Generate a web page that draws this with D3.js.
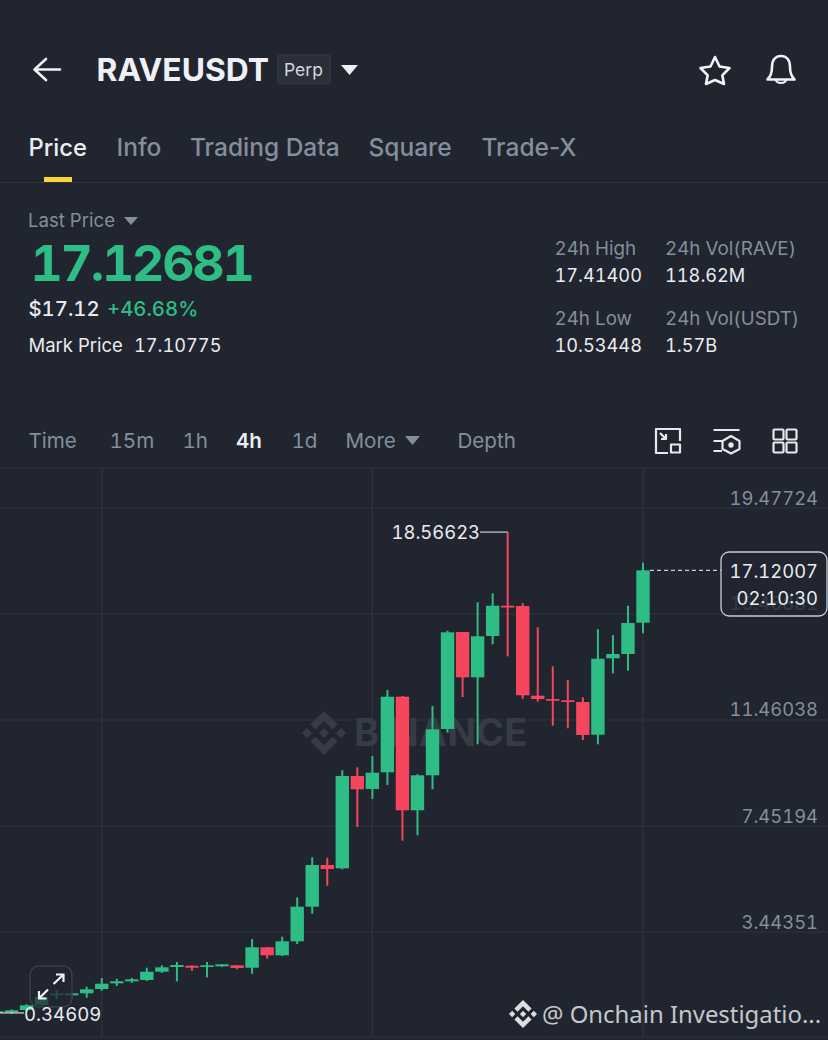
<!DOCTYPE html>
<html lang="en">
  <head>
    <meta charset="utf-8" />
    <script src="https://cdn.jsdelivr.net/npm/d3@7"></script>
    <style>
      html, body { margin: 0; padding: 0; background: #20252f; overflow: hidden; }
      svg { display: block; }
      text { font-family: "Inter", sans-serif; font-variant-numeric: tabular-nums; font-feature-settings: "tnum" 1; }
      text.plain { font-variant-numeric: normal; font-feature-settings: "tnum" 0; }
    </style>
  </head>

  <body>
    <script>
      // candles, oldest first
      const opens = [0.391, 0.406, 0.493, 0.682, 1.061, 1.049, 1.125, 1.287, 1.503, 1.579, 1.628, 1.942, 2.119, 2.169, 2.119, 2.146, 2.184, 2.093, 2.864, 2.562, 3.091, 4.400, 5.977, 5.852, 9.342, 8.851, 9.482, 12.341, 8.045, 9.369, 11.120, 14.788, 13.075, 14.637, 15.782, 15.771, 12.379, 12.254, 12.205, 12.141, 10.904, 13.793, 13.956, 15.140];
      const highs = [0.493, 0.520, 0.709, 1.049, 1.250, 1.147, 1.374, 1.703, 1.677, 1.703, 2.093, 2.184, 2.309, 2.184, 2.309, 2.233, 2.195, 3.178, 2.876, 3.265, 4.755, 6.268, 6.253, 9.558, 9.671, 10.099, 12.594, 12.368, 9.407, 11.989, 14.837, 14.788, 15.911, 16.251, 18.56623, 15.873, 14.966, 13.491, 12.973, 12.318, 14.890, 14.674, 15.782, 17.408];
      const lows = [0.380, 0.34609, 0.456, 0.656, 0.909, 1.023, 0.958, 1.223, 1.401, 1.526, 1.590, 1.893, 1.579, 1.968, 1.730, 2.119, 2.032, 1.866, 2.433, 2.535, 2.989, 4.135, 5.194, 5.814, 7.414, 8.473, 9.002, 6.896, 7.100, 8.839, 10.980, 12.330, 10.541, 14.323, 13.869, 12.265, 12.152, 11.244, 11.146, 10.704, 10.541, 13.226, 13.324, 14.739];
      const closes = [0.444, 0.482, 0.671, 0.996, 1.110, 1.125, 1.276, 1.488, 1.579, 1.654, 1.942, 2.108, 2.195, 2.093, 2.184, 2.221, 2.082, 2.864, 2.562, 3.091, 4.400, 5.977, 5.825, 9.342, 8.839, 9.467, 12.341, 8.045, 9.369, 11.108, 14.776, 13.075, 14.625, 15.782, 15.714, 12.394, 12.254, 12.190, 12.141, 10.893, 13.778, 13.956, 15.128, 17.12007];

      const priceTicks = [19.47724, 15.46881, 11.46038, 7.45194, 3.44351];
      const timeGridCandles = [7, 25, 43];
      const highLabel = 18.56623;
      const lowLabel = 0.34609;
      const lastPrice = 17.12007;
      const countdown = "02:10:30";

      const tabs = ["Price", "Info", "Trading Data", "Square", "Trade-X"];
      const intervals = ["Time", "15m", "1h", "4h", "1d", "More", "Depth"];

      const w = 828;
      const h = 1040;
      const bg = "#20252f";
      const up = "#2ebd85";
      const down = "#f6465d";
      const grey = "#848e9c";
      const white = "#eaecef";
      const gridColor = "#2f343e";

      const svg = d3.select("body").append("svg").attr("width", w).attr("height", h);
      svg.append("rect").attr("width", w).attr("height", h).attr("fill", bg);

      const label = (x, y, str, size, fill, weight, anchor) =>
        svg.append("text").attr("x", x).attr("y", y).text(str)
          .attr("font-size", size).attr("fill", fill)
          .attr("font-weight", weight || 400)
          .attr("text-anchor", anchor || "start");

      const triangle = (x0, x1, y0, y1, fill) =>
        svg.append("path").attr("fill", fill)
          .attr("d", `M${x0} ${y0}L${x1} ${y0}L${(x0 + x1) / 2} ${y1}Z`);

      const logoPath = "M38.73 53.2l24.59-24.58 24.6 24.6 14.3-14.31L63.32 0 24.43 38.9l14.3 14.3zM0 63.31l14.3-14.31 14.31 14.31-14.31 14.3zM38.73 73.41l24.59 24.59 24.6-24.6 14.31 14.29-.01.01-38.9 38.91-38.9-38.88-.02-.02zM98 63.31l14.3-14.31 14.31 14.31-14.31 14.3zM77.83 63.3l-14.51-14.52-10.73 10.73-1.24 1.23-2.54 2.54 14.51 14.5 14.51-14.52z";
      const logo = (x, y, size, fill) =>
        svg.append("path").attr("d", logoPath).attr("fill", fill)
          .attr("transform", `translate(${x},${y}) scale(${size / 126.61})`);

      // scales: price grid lines sit at y 508, 614, 720, 826, 932
      const y = d3.scaleLinear().domain([19.47724, 3.44351]).range([508, 932]);
      const x = d3.scaleLinear().domain([0, opens.length - 1]).range([-3.5, 643]);

      // header
      const icons = svg.append("g").attr("fill", "none").attr("stroke", "#f0f2f5")
        .attr("stroke-width", 3).attr("stroke-linecap", "round").attr("stroke-linejoin", "round");
      icons.append("path").attr("d", "M60 69.5H35M46 59L34.5 69.5L46 80").attr("stroke-width", 2.6);
      icons.append("path").attr("d", "M715 57L719.5 66.5L729.5 68L722.3 75.3L724 84L715 80L706 84L707.7 75.3L700.5 68L710.5 66.5Z").attr("stroke-width", 2.6);
      icons.append("path").attr("d", "M767.5 79.5C771 76 772 72 772 67C772 60 775.5 56 781 56C786.5 56 790 60 790 67C790 72 791 76 794.5 79.5Z").attr("stroke-width", 2.6);
      icons.append("path").attr("d", "M776 80C777 84 785 84 786 80").attr("stroke-width", 2.2);

      label(96.5, 81, "RAVEUSDT", 31.8, "#eef0f5", 700);
      svg.append("rect").attr("x", 277.5).attr("y", 55).attr("width", 53).attr("height", 29).attr("rx", 3)
        .attr("fill", "#2a2f3a").attr("stroke", "#363b46");
      label(284, 76, "Perp", 17.5, "#d5d8dd");
      triangle(341, 358, 65, 75, "#eef0f5");

      const tabX = [28.5, 116.5, 190, 368.5, 481.5];
      tabs.forEach((t, i) =>
        label(tabX[i], 156, t, i === 0 ? 23.8 : 24.5, i === 0 ? white : grey, 500).attr("class", "plain"));
      svg.append("rect").attr("x", 44).attr("y", 177).attr("width", 28).attr("height", 5).attr("fill", "#fcd535");
      svg.append("line").attr("x1", 0).attr("x2", w).attr("y1", 182.5).attr("y2", 182.5).attr("stroke", gridColor);

      // price summary
      label(28, 227, "Last Price", 18.6, grey);
      triangle(124, 138, 217, 225, grey);
      label(30.5, 281, "17.12681", 50, up, 700).attr("letter-spacing", -2.2);
      label(28.5, 316, "$17.12", 20.3, white, 500);
      label(107, 316, "+46.68%", 20.3, up, 500);
      label(28.5, 351.5, "Mark Price", 18.5, white);
      label(134, 351.5, "17.10775", 18.2, white);

      label(554.5, 255, "24h High", 18.8, grey);
      label(554.5, 282, "17.41400", 18.2, white);
      label(554.5, 325, "24h Low", 18.8, grey);
      label(554.5, 351.5, "10.53448", 18.2, white);
      label(665, 255, "24h Vol(RAVE)", 18.8, grey);
      label(665, 282, "118.62M", 18.2, white);
      label(665, 325, "24h Vol(USDT)", 18.8, grey);
      label(665, 351.5, "1.57B", 18.2, white);

      // interval row
      const intervalX = [28.5, 109.5, 182.5, 236, 291.5, 345.5, 457.5];
      intervals.forEach((t, i) =>
        label(intervalX[i], 448, t, 20.6, t === "4h" ? white : grey, t === "4h" ? 600 : 400));
      triangle(405, 420, 436, 445, grey);

      const tools = svg.append("g").attr("fill", "none").attr("stroke", "#e6e8ec")
        .attr("stroke-width", 2.2).attr("stroke-linejoin", "round");
      tools.append("path").attr("d", "M656 449V429H680V441M668 453H656V449");
      tools.append("rect").attr("x", 671).attr("y", 444.5).attr("width", 9).attr("height", 8);
      tools.append("path").attr("d", "M660 433L666 439M666 434V439H661");
      tools.append("path").attr("d", "M713.5 430H739.5M713.5 441H722M713.5 451H722");
      tools.append("path").attr("d", "M731 436L739.5 441V449L731 453.5L722.5 449V441Z");
      tools.append("circle").attr("cx", 731).attr("cy", 445).attr("r", 1.6).attr("fill", "#e6e8ec");
      [773.5, 786.5].forEach((tx) => [429.5, 442.5].forEach((ty) =>
        tools.append("rect").attr("x", tx).attr("y", ty).attr("width", 10).attr("height", 10).attr("rx", 1)));

      // grid
      svg.append("line").attr("x1", 0).attr("x2", w).attr("y1", 468).attr("y2", 468).attr("stroke", gridColor);
      svg.append("line").attr("x1", 0).attr("x2", w).attr("y1", 1037).attr("y2", 1037).attr("stroke", gridColor);
      svg.append("g").selectAll("line").data(priceTicks).join("line")
        .attr("x1", 0).attr("x2", w)
        .attr("y1", (d) => y(d)).attr("y2", (d) => y(d))
        .attr("stroke", gridColor).attr("stroke-width", 1.2);
      svg.append("g").selectAll("line").data(timeGridCandles).join("line")
        .attr("x1", (d) => x(d)).attr("x2", (d) => x(d))
        .attr("y1", 468).attr("y2", 1037)
        .attr("stroke", gridColor).attr("stroke-width", 1.2);

      // watermark under the candles
      logo(302, 711, 44, "#363b45");
      label(354, 746, "BINANCE", 38, "#363b45", 700);

      // candles
      const candles = opens.map((o, i) => ({ i, o, h: highs[i], l: lows[i], c: closes[i] }));
      const color = (d) => (d.c >= d.o ? up : down);
      const bodyWidth = 13.4;

      const g = svg.append("g");
      g.selectAll("line").data(candles).join("line")
        .attr("x1", (d) => x(d.i)).attr("x2", (d) => x(d.i))
        .attr("y1", (d) => y(d.h)).attr("y2", (d) => y(d.l))
        .attr("stroke", color).attr("stroke-width", 2);
      g.selectAll("rect").data(candles).join("rect")
        .attr("x", (d) => x(d.i) - bodyWidth / 2)
        .attr("width", bodyWidth)
        .attr("y", (d) => y(Math.max(d.o, d.c)))
        .attr("height", (d) => Math.max(1.5, Math.abs(y(d.o) - y(d.c))))
        .attr("fill", color);

      // price axis
      const axis = d3.axisRight(y).tickValues(priceTicks).tickSize(0).tickFormat(d3.format(".5f"));
      const axisG = svg.append("g").attr("transform", "translate(818,0)").call(axis);
      axisG.select(".domain").remove();
      axisG.selectAll("text")
        .attr("x", 0).attr("dy", "-4px").attr("y", 0)
        .attr("text-anchor", "end")
        .attr("font-family", "Inter")
        .attr("font-size", 18.4).attr("fill", grey);

      // high / low markers
      const hiIdx = highs.indexOf(highLabel);
      svg.append("line").attr("x1", 480).attr("x2", x(hiIdx)).attr("y1", y(highLabel)).attr("y2", y(highLabel))
        .attr("stroke", "#c9ccd1").attr("stroke-width", 1.2);
      label(480, y(highLabel) + 7, d3.format(".5f")(highLabel), 18.4, white, 400, "end");

      // expand button sits on top of the early candles
      svg.append("rect").attr("x", 30).attr("y", 966).attr("width", 42).attr("height", 41).attr("rx", 9)
        .attr("fill", bg).attr("fill-opacity", 0.72).attr("stroke", "#3a3f49").attr("stroke-width", 1.5);
      svg.append("path").attr("fill", "none").attr("stroke", "#f0f2f5").attr("stroke-width", 2.2)
        .attr("d", "M53.5 984L63 975M56 974.5H63.5V982M48 989.5L39 998.5M39 991V998.5H46.5");

      svg.append("line").attr("x1", 0).attr("x2", 24).attr("y1", y(lowLabel) - 1).attr("y2", y(lowLabel) - 1)
        .attr("stroke", "#d5d8dd").attr("stroke-width", 1.2);
      label(24, y(lowLabel) + 7, d3.format(".5f")(lowLabel), 18.6, white);

      // last price line and countdown box
      svg.append("line").attr("x1", x(opens.length - 1) + 7).attr("x2", 721)
        .attr("y1", y(lastPrice)).attr("y2", y(lastPrice))
        .attr("stroke", "#c9ccd1").attr("stroke-width", 1.2).attr("stroke-dasharray", "4 3");
      svg.append("rect").attr("x", 721).attr("y", 552).attr("width", 106).attr("height", 64).attr("rx", 8)
        .attr("fill", bg).attr("fill-opacity", 0.8).attr("stroke", "#c9ccd1").attr("stroke-width", 1.3);
      label(818, 578, d3.format(".5f")(lastPrice), 18.4, white, 400, "end");
      label(818, 605, countdown, 18.4, white, 400, "end");

      // bottom right source tag
      logo(509, 1000, 28, "#dcdee2");
      label(542, 1023, "@ Onchain Investigatio...", 23.9, "#c4c7cc").style("font-family", "'Noto Sans'");
    </script>
  </body>
</html>
